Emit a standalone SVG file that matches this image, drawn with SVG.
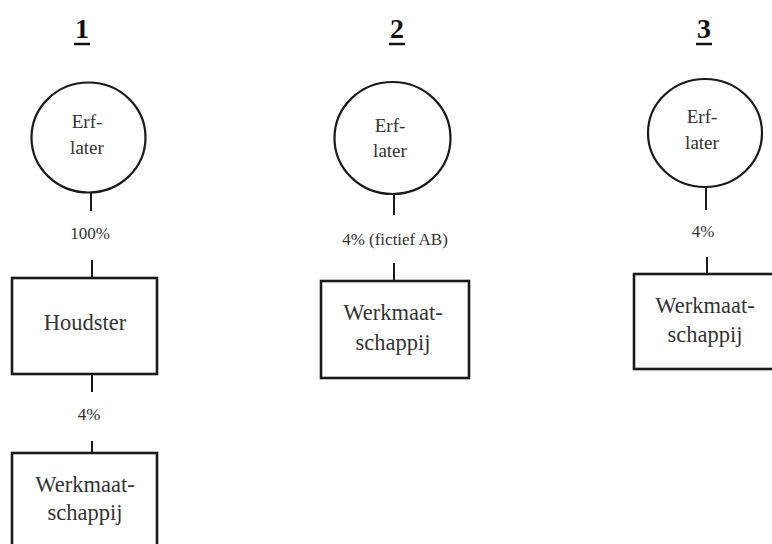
<svg xmlns="http://www.w3.org/2000/svg" width="772" height="544" viewBox="0 0 772 544">
<style>
  .shape { fill: #fff; stroke: #1a1a1a; }
  .circ { stroke-width: 2.2; }
  .box { stroke-width: 2.6; }
  .conn line { stroke: #1a1a1a; stroke-width: 2; }
  text { font-family: 'Liberation Serif', 'Tinos', 'Times New Roman', 'DejaVu Serif', serif; fill: #333; text-anchor: middle; }
  .head { font-size: 28px; font-weight: bold; fill: #111; }
  .ul { stroke: #111; stroke-width: 2.5; }
  .ct { font-size: 19px; }
  .bt { font-size: 22.5px; }
  .lbl { font-size: 17px; }
</style>
<rect width="772" height="544" fill="#fff"/>
<g id="headings">
  <text class="head" x="82" y="38">1</text>
  <line class="ul" x1="74" y1="44" x2="90" y2="44"/>
  <text class="head" x="397" y="38">2</text>
  <line class="ul" x1="389" y1="44" x2="405" y2="44"/>
  <text class="head" x="704" y="38">3</text>
  <line class="ul" x1="696" y1="44" x2="712" y2="44"/>
</g>
<g id="connectors" class="conn">
  <line x1="91" y1="193" x2="91" y2="211"/>
  <line x1="92" y1="260" x2="92" y2="278"/>
  <line x1="92" y1="374" x2="92" y2="392"/>
  <line x1="92" y1="441" x2="92" y2="453"/>
  <line x1="394" y1="194" x2="394" y2="215"/>
  <line x1="394" y1="263" x2="394" y2="281"/>
  <line x1="706" y1="187" x2="706" y2="210"/>
  <line x1="707" y1="257" x2="707" y2="274"/>
</g>
<g id="labels">
  <text class="lbl" x="90" y="239">100%</text>
  <text class="lbl" x="89" y="420">4%</text>
  <text class="lbl" x="395" y="245">4% (fictief AB)</text>
  <text class="lbl" x="703" y="237">4%</text>
</g>
<g id="erflater1">
  <ellipse class="shape circ" cx="88.5" cy="137.5" rx="57" ry="55"/>
  <text class="ct" x="87" y="128">Erf-</text>
  <text class="ct" x="87" y="154">later</text>
</g>
<g id="houdster1">
  <rect class="shape box" x="12" y="278" width="145" height="96"/>
  <text class="bt" x="85" y="330">Houdster</text>
</g>
<g id="werkmaatschappij1">
  <rect class="shape box" x="12" y="453" width="145" height="104"/>
  <text class="bt" x="85" y="492">Werkmaat-</text>
  <text class="bt" x="85" y="520">schappij</text>
</g>
<g id="erflater2">
  <ellipse class="shape circ" cx="392.5" cy="138" rx="58" ry="56"/>
  <text class="ct" x="390" y="132">Erf-</text>
  <text class="ct" x="390" y="157">later</text>
</g>
<g id="werkmaatschappij2">
  <rect class="shape box" x="321" y="281" width="148" height="97"/>
  <text class="bt" x="393" y="320">Werkmaat-</text>
  <text class="bt" x="393" y="350">schappij</text>
</g>
<g id="erflater3">
  <ellipse class="shape circ" cx="705" cy="133" rx="57" ry="54"/>
  <text class="ct" x="702" y="123">Erf-</text>
  <text class="ct" x="702" y="149">later</text>
</g>
<g id="werkmaatschappij3">
  <rect class="shape box" x="634" y="274" width="150" height="95"/>
  <text class="bt" x="705" y="313">Werkmaat-</text>
  <text class="bt" x="705" y="342">schappij</text>
</g>
</svg>
